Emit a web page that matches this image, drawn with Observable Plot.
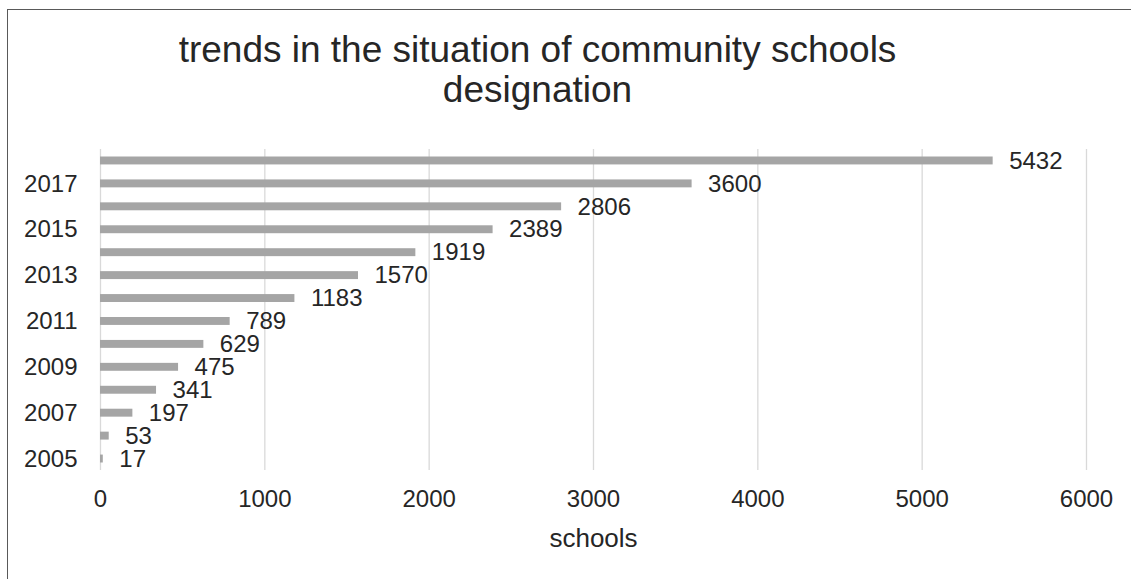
<!DOCTYPE html>
<html>
<head>
<meta charset="utf-8">
<script src="https://cdn.jsdelivr.net/npm/d3@7"></script>
<script src="https://cdn.jsdelivr.net/npm/@observablehq/plot@0.6"></script>
<style>
  html, body { margin: 0; padding: 0; background: #fff; }
  #wrap { position: relative; width: 1131px; height: 579px; overflow: hidden; font-family: "Liberation Sans", Arial, sans-serif; color: #262626; }
  #frame { position: absolute; left: 7px; top: 9px; right: -2px; bottom: -2px; border-left: 1px solid #595959; border-top: 1px solid #595959; pointer-events: none; }
  #title { position: absolute; left: 0; top: 29.6px; width: 1075px; text-align: center; font-size: 37px; line-height: 40.6px; }
  #chart { position: absolute; left: 0; top: 130px; }
</style>
</head>
<body>
<div id="wrap">
  <div id="title">trends in the situation of community schools<br>designation</div>
  <div id="chart"></div>
  <div id="frame"></div>
</div>
<script>
const years = [2005, 2006, 2007, 2008, 2009, 2010, 2011, 2012, 2013, 2014, 2015, 2016, 2017, 2018];
const schools = [17, 53, 197, 341, 475, 629, 789, 1183, 1570, 1919, 2389, 2806, 3600, 5432];
const xTicks = [0, 1000, 2000, 3000, 4000, 5000, 6000];
const yTickLabels = [2005, 2007, 2009, 2011, 2013, 2015, 2017];
const xLabel = "schools";

const data = years.map((y, i) => ({year: y, value: schools[i]}));

const chart = Plot.plot({
  width: 1131,
  height: 449,
  marginLeft: 100,
  marginRight: 45,
  marginTop: 19,
  marginBottom: 109,
  style: {fontFamily: "'Liberation Sans', Arial, sans-serif", fontSize: "24px", color: "#262626", background: "transparent"},
  x: {domain: [0, 6000]},
  y: {domain: years.slice().reverse(), padding: 0, round: false},
  marks: [
    Plot.gridX(xTicks, {stroke: "#d9d9d9", strokeOpacity: 1, strokeWidth: 1.3}),
    Plot.barX(data, {x: "value", y: "year", fill: "#a5a5a5", insetTop: 7.5, insetBottom: 7.5}),
    Plot.text(data, {x: "value", y: "year", text: d => String(d.value), textAnchor: "start", dx: 16, fill: "#262626", fontSize: 24}),
    Plot.axisX({ticks: xTicks, tickSize: 0, tickPadding: 19.5, label: null, tickFormat: d => String(d), fontSize: 24}),
    Plot.axisY({ticks: yTickLabels, tickSize: 0, tickPadding: 23, label: null, tickFormat: d => String(d), fontSize: 24}),
    Plot.text([xLabel], {text: d => d, frameAnchor: "bottom", dy: 76, fontSize: 26, fill: "#262626"})
  ]
});
document.getElementById("chart").appendChild(chart);
</script>
</body>
</html>
